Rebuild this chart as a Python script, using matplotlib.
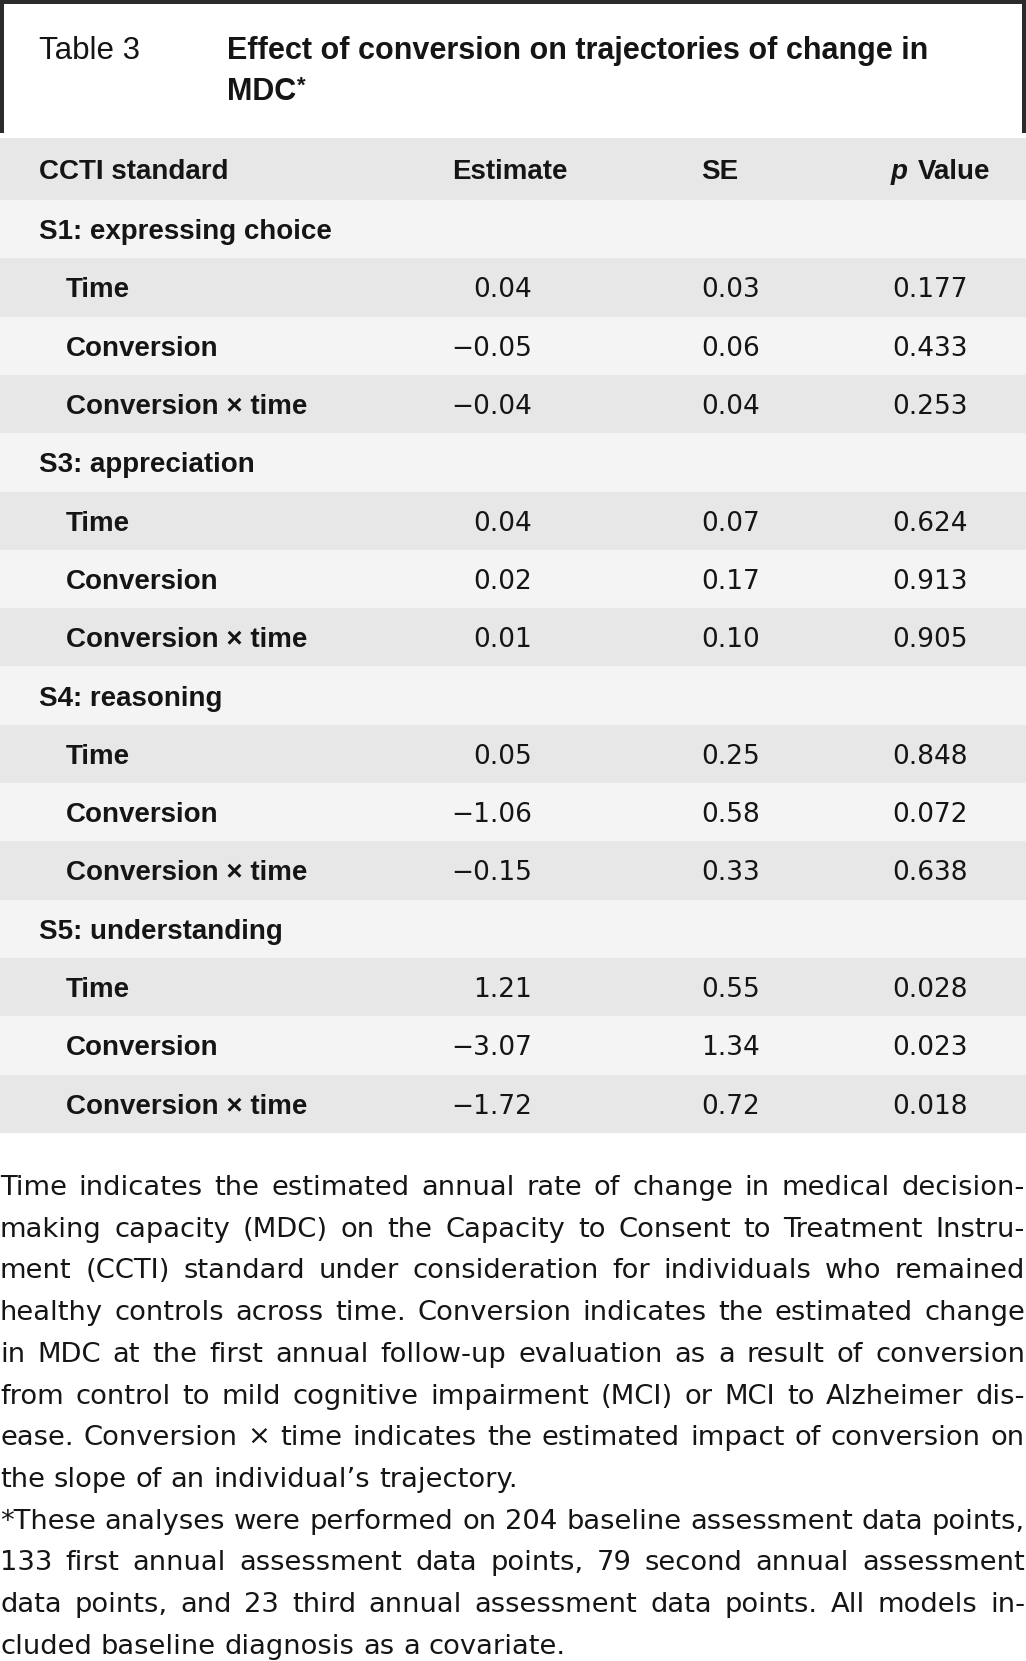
import matplotlib
matplotlib.use("Agg")
import matplotlib.pyplot as plt
from matplotlib.patches import Rectangle

# ---- table content ----
table_no = "Table 3"
title_lines = ["Effect of conversion on trajectories of change in", "MDC"]
col_headers = ["CCTI standard", "Estimate", "SE", "Value"]
sections = ["S1: expressing choice", "S3: appreciation", "S4: reasoning", "S5: understanding"]
terms = ["Time", "Conversion", "Conversion \u00d7 time"]
estimate = [[0.04, -0.05, -0.04],
            [0.04, 0.02, 0.01],
            [0.05, -1.06, -0.15],
            [1.21, -3.07, -1.72]]
std_err = [[0.03, 0.06, 0.04],
           [0.07, 0.17, 0.10],
           [0.25, 0.58, 0.33],
           [0.55, 1.34, 0.72]]
p_value = [[0.177, 0.433, 0.253],
           [0.624, 0.913, 0.905],
           [0.848, 0.072, 0.638],
           [0.028, 0.023, 0.018]]

# footnote, one entry per printed line; False = last line of paragraph (not justified)
note_lines = [
    ("Time indicates the estimated annual rate of change in medical decision-", True),
    ("making capacity (MDC) on the Capacity to Consent to Treatment Instru-", True),
    ("ment (CCTI) standard under consideration for individuals who remained", True),
    ("healthy controls across time. Conversion indicates the estimated change", True),
    ("in MDC at the first annual follow-up evaluation as a result of conversion", True),
    ("from control to mild cognitive impairment (MCI) or MCI to Alzheimer dis-", True),
    ("ease. Conversion \u00d7 time indicates the estimated impact of conversion on", True),
    ("the slope of an individual\u2019s trajectory.", False),
    ("*These analyses were performed on 204 baseline assessment data points,", True),
    ("133 first annual assessment data points, 79 second annual assessment", True),
    ("data points, and 23 third annual assessment data points. All models in-", True),
    ("cluded baseline diagnosis as a covariate.", False),
]

W, H = 1026, 1661
BOLD_FONT = "Liberation Sans"
REG_FONT = "DejaVu Sans"
INK = "#151515"
GRAY = "#e7e7e7"
LIGHT = "#f4f4f4"

fig = plt.figure(figsize=(W / 100, H / 100), dpi=100)
ax = fig.add_axes([0, 0, 1, 1])
ax.set_xlim(0, W)
ax.set_ylim(H, 0)
ax.axis("off")
renderer = fig.canvas.get_renderer()


def width_of(s, size, family=REG_FONT, weight="normal", style="normal"):
    t = ax.text(0, 0, s, fontsize=size, family=family, weight=weight, style=style)
    w = t.get_window_extent(renderer).width
    t.remove()
    return w


def put(x, y, s, size=20, family=BOLD_FONT, weight="normal", ha="left", style="normal"):
    ax.text(x, y, s, fontsize=size, family=family, weight=weight, ha=ha,
            va="baseline", color=INK, style=style)


def fmt(v, nd):
    s = f"{abs(v):.{nd}f}"
    return ("\u2212" + s) if v < 0 else s


# ---- title box ----
bc = "#2b2b2b"
ax.add_patch(Rectangle((0, 0), W, 4, color=bc, lw=0))
ax.add_patch(Rectangle((0, 0), 4, 133, color=bc, lw=0))
ax.add_patch(Rectangle((W - 4, 0), 4, 133, color=bc, lw=0))
put(39, 59, table_no, size=22.5)
put(227, 59, title_lines[0], size=22, weight="bold")
put(227, 100, title_lines[1], size=22, weight="bold")
mdc_w = width_of(title_lines[1], 22, family=BOLD_FONT, weight="bold")
put(227 + mdc_w + 1, 92, "*", size=16, weight="bold")

# ---- table ----
top, head_h, row_h = 138, 62, 58.3
col_label, col_term = 39, 66
col_est_r, col_se, col_p = 532, 701, 892
num_size = 19

ax.add_patch(Rectangle((0, top), W, head_h, color=GRAY, lw=0))
hy = top + head_h / 2 + 10
put(col_label, hy, col_headers[0], weight="bold")
put(452, hy, col_headers[1], weight="bold")
put(col_se, hy, col_headers[2], weight="bold")
put(col_p - 1, hy, "p", weight="bold", style="italic")
p_w = width_of("p ", 20, family=BOLD_FONT, weight="bold", style="italic")
put(col_p - 1 + p_w + 2, hy, col_headers[3], weight="bold")

rows = []
for i, sec in enumerate(sections):
    rows.append((sec, None, None, None))
    for j, term in enumerate(terms):
        rows.append((term, estimate[i][j], std_err[i][j], p_value[i][j]))

y0 = top + head_h
for k, (label, est, se, p) in enumerate(rows):
    ax.add_patch(Rectangle((0, y0 + k * row_h), W, row_h,
                           color=LIGHT if k % 2 == 0 else GRAY, lw=0))
    by = y0 + k * row_h + row_h / 2 + 10
    if est is None:
        put(col_label, by, label, weight="bold")
    else:
        put(col_term, by, label, weight="bold")
        put(col_est_r, by, fmt(est, 2), size=num_size, family=REG_FONT, ha="right")
        put(col_se, by, fmt(se, 2), size=num_size, family=REG_FONT)
        put(col_p, by, fmt(p, 3), size=num_size, family=REG_FONT)

# ---- footnote (justified) ----
note_size = 19.7
min_gap = 0.22 * note_size * 100 / 72
fit = 1.0
for line, just in note_lines:
    words = line.split(" ")
    total = sum(width_of(w, note_size) for w in words)
    need = total + (len(words) - 1) * min_gap
    if need > W - 1:
        fit = min(fit, (W - 1 - (len(words) - 1) * min_gap) / total)
note_size *= fit
space_w = width_of("a a", note_size) - width_of("aa", note_size)

base, lead = 1195, 41.7
for n, (line, just) in enumerate(note_lines):
    words = line.split(" ")
    ws = [width_of(w, note_size) for w in words]
    gap = (W - 1 - sum(ws)) / (len(words) - 1) if just else space_w
    x = 0
    for w, wd in zip(words, ws):
        put(x, base + n * lead, w, size=note_size, family=REG_FONT)
        x += wd + gap

fig.savefig("out.png", dpi=100)
